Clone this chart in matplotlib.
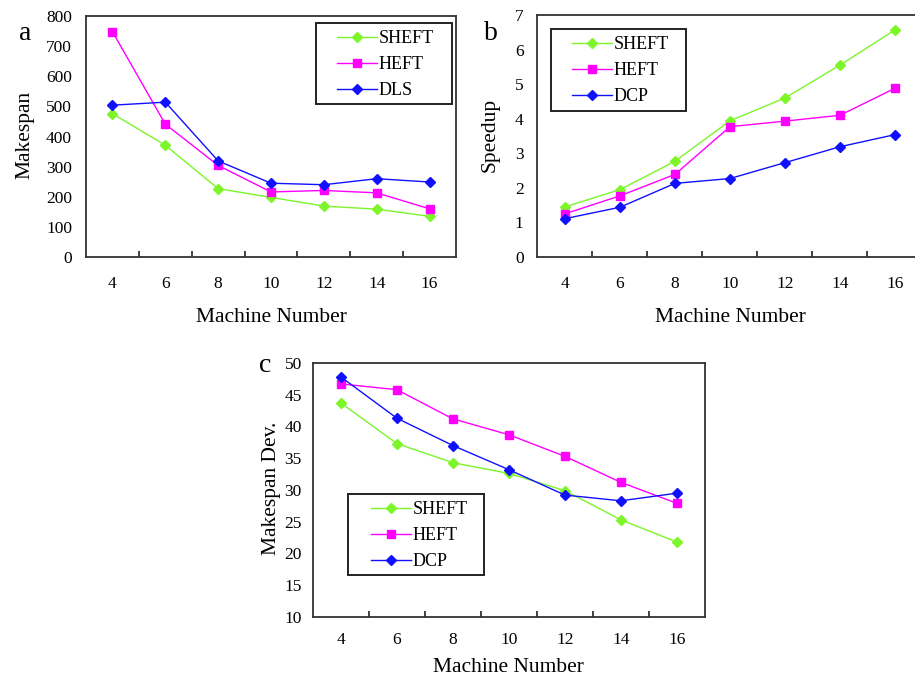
# Import libraries
import numpy as np
import matplotlib
matplotlib.use('Agg')
import matplotlib.pyplot as plt
from matplotlib.ticker import FixedLocator
from matplotlib.patches import Rectangle

# Data
machines = ['4', '6', '8', '10', '12', '14', '16']

# a: makespan
mk_sheft = [476, 371, 227, 198, 169, 159, 135]
mk_heft = [748, 441, 304, 216, 221, 213, 160]
mk_dls = [504, 514, 319, 245, 240, 260, 249]

# b: speedup
sp_sheft = [1.45, 1.95, 2.77, 3.94, 4.60, 5.55, 6.57]
sp_heft = [1.25, 1.77, 2.39, 3.77, 3.93, 4.10, 4.88]
sp_dcp = [1.11, 1.44, 2.13, 2.27, 2.73, 3.19, 3.54]

# c: makespan deviation
dev_sheft = [43.7, 37.3, 34.3, 32.6, 29.9, 25.3, 21.8]
dev_heft = [46.7, 45.8, 41.2, 38.7, 35.3, 31.2, 27.9]
dev_dcp = [47.8, 41.3, 37.0, 33.2, 29.2, 28.3, 29.5]

GREEN = '#7cf529'
MAGENTA = '#ff00ff'
BLUE = '#1010ff'

W, H = 915, 678
plt.rcParams['font.family'] = ['Liberation Serif', 'DejaVu Serif']

fig = plt.figure(figsize=(W / 100, H / 100), dpi=100)
fig.patch.set_facecolor('white')


def panel(rect, series, ylim, ystep, ylabel, legbox, leg_at, xlab_y, ylab_x, ypad, xpad):
    ax = fig.add_axes(rect)
    for vals, lab, col, mk, ms in series:
        ax.plot(machines, vals, color=col, marker=mk, markersize=ms,
                linewidth=1.0, label=lab, markeredgecolor=col)
    ax.set_xlim(-0.5, len(machines) - 0.5)
    ax.set_ylim(*ylim)
    ax.set_yticks(np.arange(ylim[0], ylim[1] + ystep / 2, ystep))
    ax.xaxis.set_minor_locator(FixedLocator(np.arange(0.5, len(machines) - 1, 1.0)))
    ax.tick_params(axis='x', which='major', length=0, pad=xpad, labelsize=12.5)
    ax.tick_params(axis='x', which='minor', direction='in', length=4, width=1.2, color='#222222')
    ax.tick_params(axis='y', length=0, pad=ypad, labelsize=12.5)
    for s in ax.spines.values():
        s.set_linewidth(1.3)
        s.set_color('#333333')
    ax.set_xlabel('Machine Number', fontsize=15.5)
    ax.set_ylabel(ylabel, fontsize=15.5)
    ax.xaxis.label.set_va('center')
    ax.yaxis.label.set_va('center')
    ax.xaxis.set_label_coords(0.5, xlab_y)
    ax.yaxis.set_label_coords(ylab_x, 0.505)

    # legend box (pixels: left, top, right, bottom)
    x0, y0, x1, y1 = legbox
    ax.add_patch(Rectangle((x0 / W, 1 - y1 / H), (x1 - x0) / W, (y1 - y0) / H,
                           transform=fig.transFigure, facecolor='white', clip_on=False,
                           edgecolor='#222222', linewidth=1.4, zorder=4.5))
    ax.legend(loc='upper left', bbox_to_anchor=(leg_at[0] / W, 1 - leg_at[1] / H),
              bbox_transform=fig.transFigure, borderaxespad=0, borderpad=0,
              fontsize=13, frameon=False, handlelength=2.2, handletextpad=0.1,
              labelspacing=0.5)
    return ax


panel([0.094, 0.6209, 0.4044, 0.3555],
      [(mk_sheft, 'SHEFT', GREEN, 'D', 4.8),
       (mk_heft, 'HEFT', MAGENTA, 's', 5.8),
       (mk_dls, 'DLS', BLUE, 'D', 4.8)],
      (0, 800), 100, 'Makespan', (316, 23, 452, 104), (337, 30), -0.249, -0.165, 10, 14)

panel([0.5874, 0.6209, 0.4208, 0.357],
      [(sp_sheft, 'SHEFT', GREEN, 'D', 4.8),
       (sp_heft, 'HEFT', MAGENTA, 's', 5.8),
       (sp_dcp, 'DCP', BLUE, 'D', 4.8)],
      (0, 7), 1, 'Speedup', (551, 29, 686, 111), (572, 36), -0.249, -0.123, 10, 14)

panel([0.342, 0.09, 0.4284, 0.3746],
      [(dev_sheft, 'SHEFT', GREEN, 'D', 4.8),
       (dev_heft, 'HEFT', MAGENTA, 's', 5.8),
       (dev_dcp, 'DCP', BLUE, 'D', 4.8)],
      (10, 50), 5, 'Makespan Dev.', (348, 494, 484, 575), (371, 501), -0.197, -0.105, 8, 11)

# panel letters
fig.text(25 / W, 1 - 33 / H, 'a', fontsize=20, ha='center', va='center')
fig.text(491 / W, 1 - 33 / H, 'b', fontsize=20, ha='center', va='center')
fig.text(265 / W, 1 - 366 / H, 'c', fontsize=20, ha='center', va='center')

fig.savefig('out.png', dpi=100)
